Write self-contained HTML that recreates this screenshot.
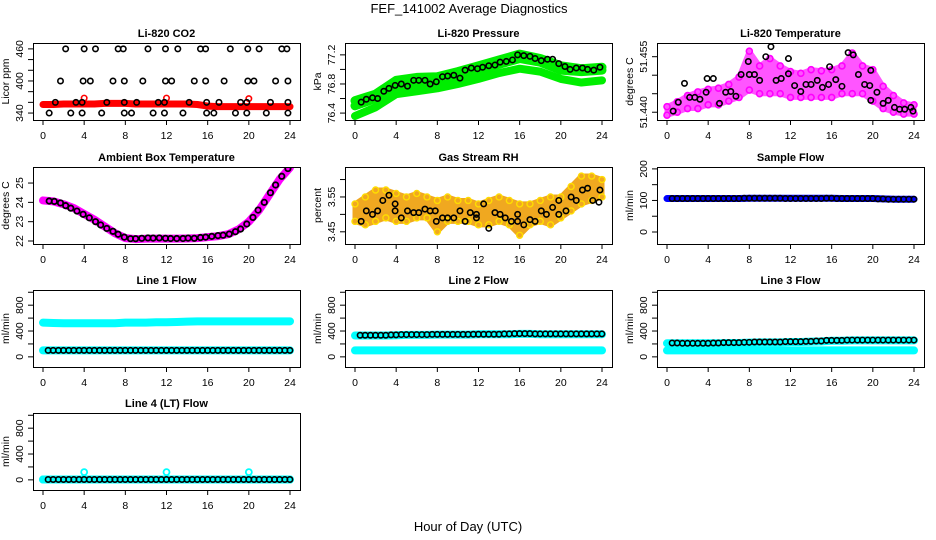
<!DOCTYPE html>
<html><head><meta charset="utf-8">
<style>
html,body{margin:0;padding:0;background:#fff;}
svg{display:block;font-family:"Liberation Sans",sans-serif;}
</style></head>
<body>
<svg id="chart" width="936" height="540" viewBox="0 0 936 540" xmlns="http://www.w3.org/2000/svg">
<rect x="0" y="0" width="936" height="540" fill="#fff"/>
<text x="469" y="13" text-anchor="middle" font-size="13">FEF_141002  Average Diagnostics</text>
<text x="468" y="531" text-anchor="middle" font-size="13">Hour of Day (UTC)</text>
</svg>
<script>
// ---------- shared data ----------
const xTicks=[0,4,8,12,16,20,24];
const hours=[0,1,2,3,4,5,6,7,8,9,10,11,12,13,14,15,16,17,18,19,20,21,22,23,24];
const hours2=[0,2,4,6,8,10,12,14,16,18,20,22,24];

// CO2
const co2Ticks=[340,360,380,400,420,440,460];
const co2Labels=[340,400,460];
const co2Red=[356,356,357,357,357,357,358,358,358,357,357,357,357,357,357,356,353,352,352,352,352,352,352,352,352];
const co2RedOutX=[4,12,20];
const co2RedOutY=[368,368,367];
const co2BlkX=[2.2,4.0,5.1,7.3,7.8,10.2,11.9,13.1,15.3,15.8,18.2,19.9,21.0,23.2,23.7,
 1.7,3.9,4.6,6.8,7.9,9.7,11.9,12.5,14.7,15.8,17.6,19.9,20.5,22.6,23.8,
 1.2,3.2,3.8,6.2,7.9,9.1,11.2,11.8,14.2,15.9,17.1,19.2,19.8,22.1,23.8,
 0.6,2.7,3.8,5.7,7.9,8.6,10.7,11.8,13.6,15.9,16.6,18.7,19.8,21.7,23.8];
const co2BlkY=[460,460,460,460,460,460,460,460,460,460,460,460,460,460,460,
 400,400,400,400,400,400,400,400,400,400,400,400,400,400,400,
 360,360,360,360,360,360,360,360,360,360,360,360,360,360,360,
 340,340,340,340,340,340,340,340,340,340,340,340,340,340,340];

// Pressure
const presTicks=[76.4,76.6,76.8,77.0,77.2];
const presLabels=["76.4","76.8","77.2"];
const presA=[76.57,76.66,76.85,76.89,76.90,76.97,77.05,77.13,77.21,77.15,77.05,77.01,77.03];
const presB=[76.50,76.60,76.75,76.78,76.82,76.90,76.98,77.07,77.15,77.10,76.99,76.97,76.99];
const presC=[76.36,76.48,76.66,76.70,76.74,76.80,76.87,76.95,77.01,76.97,76.87,76.82,76.85];
const presBlkX=[0.6,1.1,1.7,2.2,2.8,3.3,3.9,4.5,5.1,5.7,6.2,6.8,7.3,7.9,8.5,9.0,9.6,10.2,10.7,11.3,11.9,12.4,13.0,13.6,14.1,14.7,15.3,15.8,16.4,17.0,17.5,18.1,18.7,19.2,19.8,20.4,20.9,21.5,22.1,22.6,23.2,23.8];
const presBlkY=[76.55,76.59,76.61,76.60,76.70,76.74,76.78,76.80,76.77,76.85,76.85,76.85,76.80,76.83,76.90,76.91,76.92,76.88,76.99,77.02,77.01,77.03,77.05,77.06,77.10,77.11,77.13,77.20,77.19,77.18,77.15,77.12,77.14,77.14,77.08,77.04,77.00,77.02,77.02,77.00,76.99,77.03];

// Temperature
const tempTicks=[51.440,51.445,51.450,51.455];
const tempLabels=["51.440","51.455"];
const tempLo=[51.4392,51.4400,51.4410,51.4410,51.4420,51.4420,51.4430,51.4440,51.4460,51.4450,51.4450,51.4450,51.4440,51.4440,51.4440,51.4440,51.4440,51.4450,51.4450,51.4450,51.4430,51.4410,51.4400,51.4395,51.4395];
const tempHi=[51.4415,51.4428,51.4445,51.4455,51.4462,51.4465,51.4475,51.4495,51.4565,51.4525,51.4545,51.4525,51.4510,51.4505,51.4515,51.4512,51.4515,51.4525,51.4560,51.4525,51.4515,51.4470,51.4445,51.4425,51.4420];
const tempBlkX=[0.6,1.1,1.7,2.2,2.7,3.2,3.8,3.9,4.5,5.1,5.7,6.2,6.7,7.2,7.9,8.0,8.5,9.0,9.6,10.1,10.6,11.1,11.8,11.8,12.4,13.0,13.5,14.0,14.6,15.1,15.7,15.8,16.4,17.0,17.6,18.1,18.6,19.2,19.7,19.8,19.8,20.4,21.0,21.5,22.1,22.6,23.1,23.7,23.9];
const tempBlkY=[51.4403,51.4427,51.4478,51.4440,51.4440,51.4435,51.4454,51.4491,51.4491,51.4424,51.4454,51.4456,51.4443,51.4502,51.4537,51.4502,51.4502,51.4486,51.4550,51.4577,51.4486,51.4491,51.4545,51.4504,51.4472,51.4456,51.4475,51.4475,51.4486,51.4467,51.4475,51.4523,51.4488,51.4470,51.4561,51.4555,51.4502,51.4475,51.4472,51.4513,51.4432,51.4454,51.4424,51.4432,51.4413,51.4408,51.4408,51.4413,51.4403];

// Ambient box temperature
const ambTicks=[22,23,24,25];
const ambLabels=["22","23","24","25"];
const ambPink=[24.1,24.05,23.9,23.7,23.4,23.1,22.75,22.4,22.15,22.1,22.12,22.12,22.12,22.12,22.13,22.15,22.2,22.25,22.35,22.6,23.0,23.6,24.4,25.2,25.8];
const ambBlkX=[0.6,1.1,1.7,2.2,2.7,3.3,3.9,4.5,5.1,5.6,6.2,6.8,7.3,7.9,8.5,9.0,9.6,10.2,10.7,11.3,11.9,12.4,13.0,13.6,14.1,14.7,15.3,15.8,16.4,17.0,17.5,18.1,18.7,19.2,19.8,20.4,20.9,21.5,22.1,22.6,23.2,23.8];
const ambBlkY=[24.07,24.05,23.97,23.83,23.7,23.55,23.38,23.2,23.0,22.83,22.65,22.5,22.35,22.2,22.12,22.12,22.14,22.16,22.15,22.16,22.14,22.13,22.13,22.13,22.15,22.14,22.18,22.2,22.24,22.28,22.3,22.36,22.48,22.62,22.88,23.22,23.6,24.0,24.5,24.9,25.35,25.75];

// Gas stream RH
const rhTicks=[3.45,3.50,3.55,3.60];
const rhLabels=["3.45","3.55"];
const rhLo=[3.48,3.47,3.48,3.49,3.48,3.48,3.49,3.49,3.45,3.48,3.48,3.48,3.47,3.47,3.48,3.47,3.44,3.47,3.48,3.47,3.49,3.51,3.53,3.54,3.55];
const rhHi=[3.53,3.55,3.57,3.57,3.56,3.55,3.56,3.55,3.54,3.55,3.54,3.54,3.53,3.54,3.55,3.54,3.53,3.53,3.54,3.55,3.55,3.58,3.61,3.61,3.60];
const rhBlkX=[0.6,1.1,1.7,2.2,2.7,3.3,3.9,3.9,4.5,5.1,5.7,6.2,6.8,7.3,7.8,7.9,8.5,9.0,9.6,10.2,10.7,11.2,11.8,11.8,12.5,13.0,13.6,14.1,14.6,15.2,15.8,15.8,16.4,17.0,17.5,18.1,18.6,19.2,19.8,19.8,20.5,21.0,21.5,22.1,22.6,23.1,23.7,23.8];
const rhBlkY=[3.48,3.51,3.50,3.51,3.54,3.555,3.51,3.53,3.49,3.51,3.505,3.505,3.515,3.51,3.51,3.48,3.49,3.49,3.49,3.51,3.48,3.505,3.49,3.50,3.53,3.46,3.505,3.50,3.49,3.48,3.48,3.50,3.47,3.485,3.48,3.51,3.50,3.52,3.50,3.54,3.51,3.55,3.54,3.57,3.575,3.54,3.535,3.57];

// Sample flow
const sfTicks=[0,50,100,150,200];
const sfLabels=["0","100","200"];
const sfBlue=[106,106,106,106,106,106,106,106,107,107,107,107,107,107,107,107,107,106,106,106,106,105,104,104,104];
const sfBlk=[106,106,106,106,106,106,106,106,107,107,107,107,106,106,106,106,107,106,106,106,106,105,104,104,104];

// Line flows
const flTicks=[0,200,400,600,800,1000];
const flLabels=["0","400","800"];
const l1Cyan=[530,525,520,520,520,520,520,520,530,530,530,535,535,540,545,550,550,550,550,550,550,550,550,550,550];
const l1Blk=[100,100,100,100,100,100,100,100,100,100,100,100,100,100,100,100,100,100,100,100,100,100,100,100,100];
const l1Low=[100,100,100,100,100,100,100,100,100,100,100,100,100,100,100,100,100,100,100,100,100,100,100,100,100];
const l2Cyan=[330,330,330,330,335,340,340,340,345,345,345,345,350,350,350,350,355,355,350,350,350,350,350,350,350];
const l2Blk=[335,335,335,335,340,345,345,345,348,348,348,348,350,350,350,355,360,360,355,355,355,355,355,355,355];
const l2Low=[100,100,100,100,100,100,100,100,100,100,100,100,100,100,100,100,100,100,100,100,100,100,100,100,100];
const l3Cyan=[210,210,210,210,210,210,215,215,220,225,225,225,230,230,235,240,250,250,255,255,255,255,255,255,255];
const l3Blk=[215,215,210,210,210,215,220,220,225,230,230,230,235,235,240,245,255,255,260,260,260,260,260,260,260];
const l3Low=[100,100,100,100,100,100,100,100,100,100,100,100,100,100,100,100,100,100,100,100,100,100,100,100,100];
const l4Cyan=[5,5,5,5,5,5,5,5,5,5,5,5,5,5,5,5,5,5,5,5,5,5,5,5,5];
const l4Blk=[5,5,5,5,5,5,5,5,5,5,5,5,5,5,5,5,5,5,5,5,5,5,5,5,5];
const l4OutX=[4,12,20];
const l4OutY=[120,120,120];

// ---------- drawing ----------
const NS="http://www.w3.org/2000/svg";
const svg=document.getElementById("chart");
const colL=[33,345,657], rowT=[43,167,290,413], PW=267, PH=77;
function mk(tag,attrs,parent){const e=document.createElementNS(NS,tag);for(const k in attrs)e.setAttribute(k,attrs[k]);(parent||svg).appendChild(e);return e;}

function makePanel(name,col,row,ylim,yt,yl,title,ylab){
  const L=colL[col],T=rowT[row];
  const g=mk("g",{});
  
  
  const sx=h=>L+10+h/24*247;
  const sy=v=>T+(ylim[1]-v)/(ylim[1]-ylim[0])*PH;
  const clip=mk("clipPath",{id:"c"+name},g);
  mk("rect",{x:L,y:T,width:PW,height:PH},clip);
  const plot=mk("g",{"clip-path":"url(#c"+name+")"},g);
  
  
  const box=mk("rect",{x:L+0.5,y:T+0.5,width:PW,height:PH,fill:"none",stroke:"#000","stroke-width":1},g);
  
  
  const xa=mk("g",{},g);
  
  
  mk("line",{x1:sx(0),x2:sx(24),y1:T+PH+0.5,y2:T+PH+0.5,stroke:"#000"},xa);
  xTicks.forEach(t=>{
    mk("line",{x1:sx(t),x2:sx(t),y1:T+PH,y2:T+PH+5,stroke:"#000"},xa);
    const tx=mk("text",{x:sx(t),y:T+PH+19,"text-anchor":"middle","font-size":"10.5"},xa);
    tx.textContent=t;
  });
  const ya=mk("g",{},g);
  
  
  mk("line",{x1:L+0.5,x2:L+0.5,y1:sy(yt[0]),y2:sy(yt[yt.length-1]),stroke:"#000"},ya);
  yt.forEach(t=>{mk("line",{x1:L-5,x2:L,y1:sy(t),y2:sy(t),stroke:"#000"},ya);});
  yl.forEach(t=>{
    const y=sy(+t),x=L-10;
    const tx=mk("text",{x:x,y:y,"text-anchor":"middle","font-size":"10.5",transform:"rotate(-90 "+x+" "+y+")"},ya);
    tx.textContent=t;
  });
  const yx=L-24,yy=T+PH/2;
  const ylt=mk("text",{x:yx,y:yy,"text-anchor":"middle","font-size":"10.5",transform:"rotate(-90 "+yx+" "+yy+")"},g);
  ylt.textContent=ylab;
  
  
  const tt=mk("text",{x:L+PW/2,y:T-6,"text-anchor":"middle","font-size":"11","font-weight":"bold"},g);
  tt.textContent=title;
  
  
  return {sx,sy,plot};
}
function pts(P,xs,ys,color,r,sw,name){
  const g=mk("g",{},P.plot);
  
  
  xs.forEach((x,i)=>{mk("circle",{cx:P.sx(x),cy:P.sy(ys[i]),r:r||2.7,fill:"none",stroke:color,"stroke-width":sw||1.6},g);});
}
function thick(P,xs,ys,color,w,name){
  const p=mk("polyline",{points:xs.map((x,i)=>P.sx(x)+","+P.sy(ys[i])).join(" "),fill:"none",stroke:color,"stroke-width":w,"stroke-linejoin":"round","stroke-linecap":"round"},P.plot);
  
  
}
function band(P,xs,lo,hi,color,name){
  const a=xs.map((x,i)=>P.sx(x)+","+P.sy(hi[i]));
  const b=xs.map((x,i)=>P.sx(x)+","+P.sy(lo[i])).reverse();
  const p=mk("polygon",{points:a.concat(b).join(" "),fill:color,stroke:color,"stroke-width":5,"stroke-linejoin":"round"},P.plot);
  
  
}

let P=makePanel("co2",0,0,[327,471],co2Ticks,co2Labels,"Li-820 CO2","Licor ppm");
thick(P,hours,co2Red,"#ff0000",7,"co2-red-series");
pts(P,co2RedOutX,co2RedOutY,"#ff0000",2.7,1.6,"co2-red-outliers");
pts(P,co2BlkX,co2BlkY,"#000",2.7,1.6,"co2-black-points");

P=makePanel("pressure",1,0,[76.305,77.363],presTicks,presLabels,"Li-820 Pressure","kPa");
thick(P,hours2,presC,"#00ee00",8,"pressure-low-series");
thick(P,hours2,presB,"#00ee00",9,"pressure-mid-series");
thick(P,hours2,presA,"#00ee00",9,"pressure-high-series");
pts(P,presBlkX,presBlkY,"#000",2.7,1.6,"pressure-black-points");

P=makePanel("temperature",2,0,[51.4379,51.4587],tempTicks,tempLabels,"Li-820 Temperature","degrees C");
band(P,hours,tempLo,tempHi,"#ff55ff","temperature-band");
pts(P,hours,tempLo,"#ff00ff",3,1.6,"temperature-low-points");
pts(P,hours,tempHi,"#ff00ff",3,1.6,"temperature-high-points");
pts(P,tempBlkX,tempBlkY,"#000",2.7,1.6,"temperature-black-points");

P=makePanel("ambient",0,1,[21.845,25.83],ambTicks,ambLabels,"Ambient Box Temperature","degrees C");
thick(P,hours,ambPink,"#ff00ff",8,"ambient-pink-series");
pts(P,ambBlkX,ambBlkY,"#000",2.7,1.8,"ambient-black-points");

P=makePanel("rh",1,1,[3.415,3.636],rhTicks,rhLabels,"Gas Stream RH","percent");
band(P,hours,rhLo,rhHi,"#f0a820","rh-band");
pts(P,hours,rhLo,"#ffdd00",3,1.4,"rh-low-points");
pts(P,hours,rhHi,"#ffdd00",3,1.4,"rh-high-points");
pts(P,rhBlkX,rhBlkY,"#000",2.7,1.6,"rh-black-points");

P=makePanel("sample-flow",2,1,[-38,206],sfTicks,sfLabels,"Sample Flow","ml/min");
thick(P,hours,sfBlue,"#0000ff",7,"sample-flow-blue-series");
pts(P,hours.slice(1).map(h=>h-0.5),sfBlk.slice(1),"#000",2.7,1.6,"sample-flow-black-points");
pts(P,hours.map(h=>h-0.01).slice(1),sfBlk.slice(1),"#000",2.7,1.6,"sample-flow-black-points-2");

function flowPanel(name,col,row,title,cyanHi,blk,low){
  const P=makePanel(name,col,row,[-157,1035],flTicks,flLabels,title,"ml/min");
  thick(P,hours,cyanHi,"#00ffff",8,name+"-cyan-upper");
  thick(P,hours,low,"#00ffff",8,name+"-cyan-lower");
  pts(P,hours.slice(1).map(h=>h-0.5),blk.slice(1),"#000",2.7,1.6,name+"-black-points");
  pts(P,hours.slice(1).map(h=>h-0.01),blk.slice(1),"#000",2.7,1.6,name+"-black-points-2");
  return P;
}
flowPanel("line1-flow",0,2,"Line 1 Flow",l1Cyan,l1Blk,l1Low);
flowPanel("line2-flow",1,2,"Line 2 Flow",l2Cyan,l2Blk,l2Low);
flowPanel("line3-flow",2,2,"Line 3 Flow",l3Cyan,l3Blk,l3Low);
P=flowPanel("line4-flow",0,3,"Line 4 (LT) Flow",l4Cyan,l4Blk,l4Cyan);
pts(P,l4OutX,l4OutY,"#00ffff",3,1.8,"line4-cyan-outliers");
</script>
</body></html>
